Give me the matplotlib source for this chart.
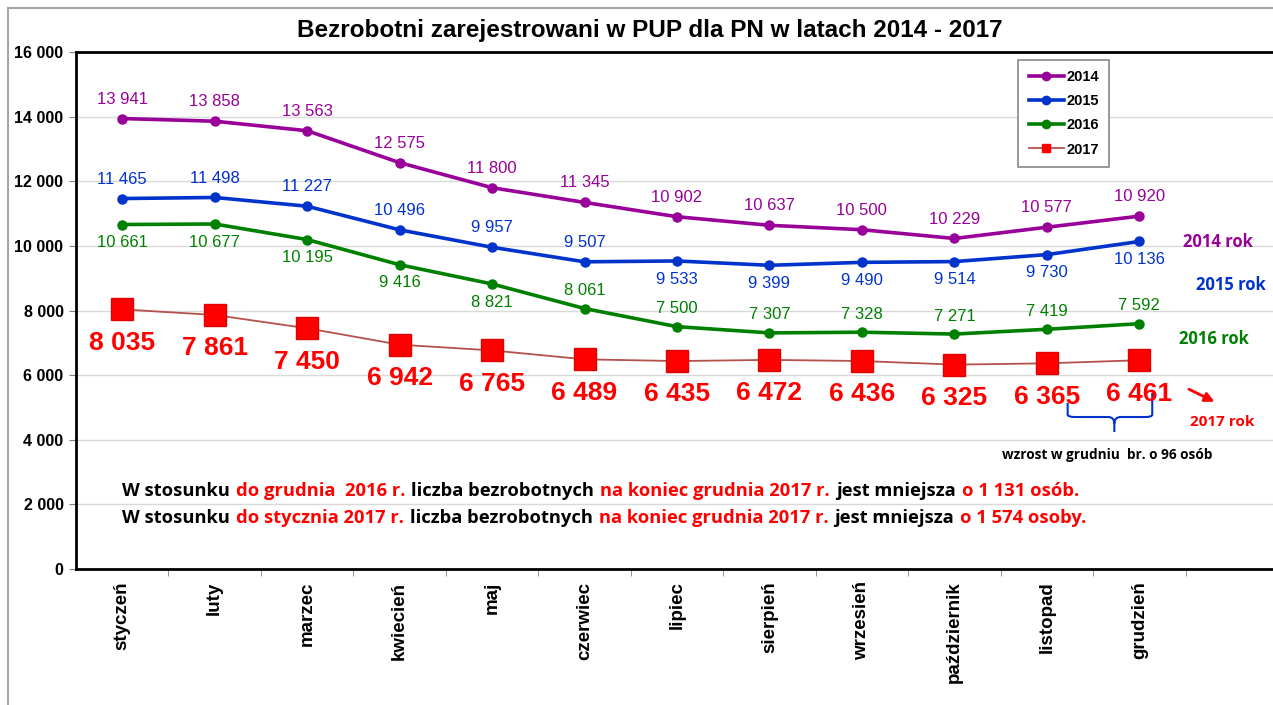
import matplotlib
matplotlib.use("Agg")
import matplotlib.pyplot as plt
from matplotlib.lines import Line2D
from matplotlib.path import Path
import matplotlib.patches as mpatches

# data
months = ["styczeń", "luty", "marzec", "kwiecień", "maj", "czerwiec", "lipiec",
          "sierpień", "wrzesień", "październik", "listopad", "grudzień"]
y2014 = [13941, 13858, 13563, 12575, 11800, 11345, 10902, 10637, 10500, 10229, 10577, 10920]
y2015 = [11465, 11498, 11227, 10496, 9957, 9507, 9533, 9399, 9490, 9514, 9730, 10136]
y2016 = [10661, 10677, 10195, 9416, 8821, 8061, 7500, 7307, 7328, 7271, 7419, 7592]
y2017 = [8035, 7861, 7450, 6942, 6765, 6489, 6435, 6472, 6436, 6325, 6365, 6461]

title = "Bezrobotni zarejestrowani w PUP dla PN w latach 2014 - 2017"
line1 = [("W stosunku", "k"), ("do grudnia  2016 r.", "r"), ("liczba bezrobotnych", "k"),
         ("na koniec grudnia 2017 r.", "r"), ("jest mniejsza", "k"), ("o 1 131 osób.", "r")]
line2 = [("W stosunku", "k"), ("do stycznia 2017 r.", "r"), ("liczba bezrobotnych", "k"),
         ("na koniec grudnia 2017 r.", "r"), ("jest mniejsza", "k"), ("o 1 574 osoby.", "r")]

PURPLE = "#990099"
BLUE = "#0033CC"
GREEN = "#008000"
RED = "#FF0000"
ARIAL = "Liberation Sans"
CALIBRI = "Open Sans"


def fmt(v):
    return f"{v:,}".replace(",", " ")


fig = plt.figure(figsize=(12.73, 7.05), dpi=100)
ax = fig.add_axes([76 / 1273, 136 / 705, 1202 / 1273, 517 / 705])

x = list(range(len(months)))
ax.plot(x, y2014, color=PURPLE, lw=2.6, marker="o", ms=6.5, zorder=4)
ax.plot(x, y2015, color=BLUE, lw=2.6, marker="o", ms=6.5, zorder=4)
ax.plot(x, y2016, color=GREEN, lw=2.6, marker="o", ms=6.5, zorder=4)
ax.plot(x, y2017, color="#B5504B", lw=1.3, marker="s", ms=16, mfc=RED, mec="#E00000", zorder=4)

# data labels
for i, v in enumerate(y2014):
    ax.annotate(fmt(v), (i, v), xytext=(0, 14), textcoords="offset points",
                ha="center", va="center", color=PURPLE, fontsize=12, family=ARIAL)
for i, v in enumerate(y2015):
    dy = 14 if i < 6 else -13
    ax.annotate(fmt(v), (i, v), xytext=(0, dy), textcoords="offset points",
                ha="center", va="center", color=BLUE, fontsize=12, family=ARIAL)
for i, v in enumerate(y2016):
    dy = -13 if i < 5 else 13
    ax.annotate(fmt(v), (i, v), xytext=(0, dy), textcoords="offset points",
                ha="center", va="center", color=GREEN, fontsize=12, family=ARIAL)
for i, v in enumerate(y2017):
    ax.annotate(fmt(v), (i, v), xytext=(0, -24), textcoords="offset points",
                ha="center", va="center", color=RED, fontsize=19, fontweight="bold", family=ARIAL)

# axes styling
ax.set_xlim(-0.5, 12.5)
ax.set_ylim(0, 16000)
ax.set_yticks(range(0, 16001, 2000))
ax.set_yticklabels([fmt(v) for v in range(0, 16001, 2000)], fontsize=11.5,
                   fontweight="bold", family=ARIAL)
ax.set_xticks(x)
ax.set_xticklabels(months, rotation=90, va="top", fontsize=13.5, fontweight="bold", family=ARIAL)
ax.set_xticks([k - 0.5 for k in range(1, 14)], minor=True)
ax.tick_params(axis="x", which="major", length=0, pad=9)
ax.tick_params(axis="x", which="minor", length=5, color="#808080", direction="out")
ax.tick_params(axis="y", length=5, color="#808080", direction="out", pad=4)
ax.grid(axis="y", color="#D9D9D9", lw=1)
ax.set_axisbelow(True)
for s in ("left", "top", "bottom"):
    ax.spines[s].set_linewidth(2)
ax.spines["right"].set_visible(False)

# legend
handles = [
    Line2D([], [], color=PURPLE, lw=2.6, marker="o", ms=6, label="2014"),
    Line2D([], [], color=BLUE, lw=2.6, marker="o", ms=6, label="2015"),
    Line2D([], [], color=GREEN, lw=2.6, marker="o", ms=6, label="2016"),
    Line2D([], [], color="#B5504B", lw=1.3, marker="s", ms=6, mfc=RED, mec=RED, label="2017"),
]
leg = ax.legend(handles=handles, loc="upper left", bbox_to_anchor=(0.784, 0.985),
                prop={"family": ARIAL, "weight": "bold", "size": 10.5}, fancybox=False,
                edgecolor="#888888", framealpha=1, handlelength=2.4, labelspacing=0.7,
                borderpad=0.7, handletextpad=0.2, borderaxespad=0)
leg.get_frame().set_linewidth(1.2)

# series names on the right
ax.text(11.47, 10120, "2014 rok", color=PURPLE, fontsize=12, fontweight="bold", family=CALIBRI, va="center")
ax.text(11.61, 8790, "2015 rok", color=BLUE, fontsize=12, fontweight="bold", family=CALIBRI, va="center")
ax.text(11.43, 7118, "2016 rok", color=GREEN, fontsize=12, fontweight="bold", family=CALIBRI, va="center")
ax.text(11.55, 4550, "2017 rok", color=RED, fontsize=11, fontweight="bold", family=CALIBRI, va="center")
ax.annotate("", xy=(11.84, 5138), xytext=(11.51, 5602),
            arrowprops=dict(arrowstyle="-|>", color=RED, lw=2, mutation_scale=14))

# brace under the last two points
verts = [(10.225, 5138), (10.225, 4780), (10.225, 4704), (10.3, 4704),
         (10.66, 4704), (10.73, 4704), (10.73, 4500), (10.73, 4240),
         (10.73, 4500), (10.73, 4704), (10.8, 4704),
         (11.07, 4704), (11.14, 4704), (11.14, 4780), (11.14, 5447)]
codes = [Path.MOVETO, Path.LINETO, Path.CURVE3, Path.CURVE3,
         Path.LINETO, Path.CURVE3, Path.CURVE3, Path.LINETO,
         Path.MOVETO, Path.CURVE3, Path.CURVE3,
         Path.LINETO, Path.CURVE3, Path.CURVE3, Path.LINETO]
ax.add_patch(mpatches.PathPatch(Path(verts, codes), fill=False, edgecolor=BLUE, lw=1.5))
ax.text(9.52, 3528, "wzrost w grudniu  br. o 96 osób", fontsize=9.8, fontweight="bold",
        family=CALIBRI, va="center", ha="left")


# two coloured sentences
def rich_line(y, pieces):
    colors = {"k": "black", "r": RED}
    t = ax.text(0.0, y, pieces[0][0], color=colors[pieces[0][1]], fontsize=13.2,
                fontweight="bold", family=CALIBRI, va="center", ha="left")
    for s, c in pieces[1:]:
        t = ax.annotate(s, xy=(1, 0), xycoords=t, xytext=(4.3, 0), textcoords="offset points",
                        va="bottom", ha="left", color=colors[c], fontsize=13.2,
                        fontweight="bold", family=CALIBRI)


rich_line(2414, line1)
rich_line(1578, line2)

fig.text(650 / 1273, 1 - 30 / 705, title, ha="center", va="center", fontsize=17.5,
         fontweight="bold", family=ARIAL)

# outer frame of the picture
fig.add_artist(Line2D([8 / 1273, 8 / 1273], [0, 1 - 8 / 705], transform=fig.transFigure,
                      color="#A6A6A6", lw=1.5))
fig.add_artist(Line2D([8 / 1273, 1], [1 - 8 / 705, 1 - 8 / 705], transform=fig.transFigure,
                      color="#A6A6A6", lw=1.5))

fig.savefig("out.png", dpi=100)
